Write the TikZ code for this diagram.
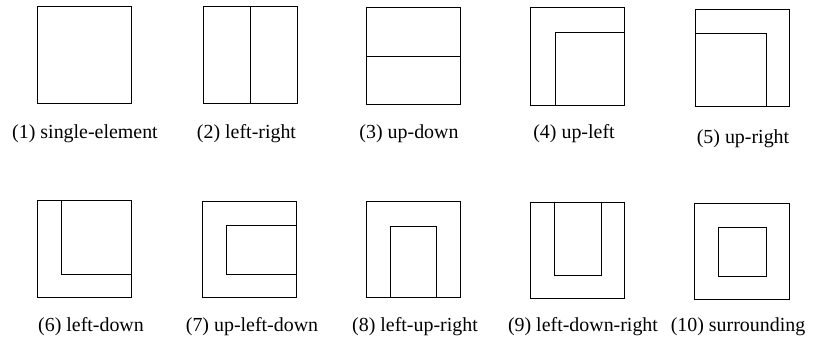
\documentclass[tikz,border=0pt]{standalone}
\usepackage{fontspec}
\setmainfont{Liberation Serif}
\begin{document}
\begin{tikzpicture}[x=1bp,y=-1bp,
  box/.style={draw=black,line width=1bp},
  seg/.style={draw=black,line width=1bp},
  lab/.style={anchor=base,inner sep=0pt,font=\fontsize{20}{24}\selectfont}]
\useasboundingbox (0,0) rectangle (824,339);
% Row 1
% (1)
\draw[box] (37.5,6.5) rectangle (131.5,103.5);
\node[lab] (l1) at (85,138) {(1) single-element};
% (2)
\draw[box] (203,6.5) rectangle (297,103.5);
\draw[seg] (250,6.5) -- (250,103.5);
\node[lab] (l2) at (246.5,138) {(2) left-right};
% (3)
\draw[box] (366.5,7.5) rectangle (460,104.5);
\draw[seg] (366.5,56.5) -- (460,56.5);
\node[lab] (l3) at (409,138) {(3) up-down};
% (4)
\draw[box] (530.5,7.5) rectangle (624.5,105);
\draw[seg] (555,105) -- (555,32.5) -- (624.5,32.5);
\node[lab] (l4) at (574,138) {(4) up-left};
% (5)
\draw[box] (695,9) rectangle (789.5,106);
\draw[seg] (695,33.5) -- (766.5,33.5) -- (766.5,106);
\node[lab] (l5) at (743,143) {(5) up-right};
% Row 2
% (6)
\draw[box] (37.5,200.5) rectangle (131.5,297.5);
\draw[seg] (61.5,200.5) -- (61.5,274) -- (131.5,274);
\node[lab] (l6) at (91,331) {(6) left-down};
% (7)
\draw[box] (202.5,201.5) rectangle (296,297.5);
\draw[seg] (296,225.5) -- (226.5,225.5) -- (226.5,274) -- (296,274);
\node[lab] (l7) at (252,331) {(7) up-left-down};
% (8)
\draw[box] (366,201.5) rectangle (460,297.5);
\draw[seg] (390,297.5) -- (390,226) -- (436.5,226) -- (436.5,297.5);
\node[lab] (l8) at (415,331) {(8) left-up-right};
% (9)
\draw[box] (530,202) rectangle (624,298.5);
\draw[seg] (554.5,202) -- (554.5,275) -- (601.5,275) -- (601.5,202);
\node[lab] (l9) at (583,331) {(9) left-down-right};
% (10)
\draw[box] (694.5,203) rectangle (789.5,299);
\draw[box] (718.5,227.5) rectangle (766.5,276);
\node[lab] (l10) at (738,331) {(10) surrounding};
\end{tikzpicture}
\end{document}
